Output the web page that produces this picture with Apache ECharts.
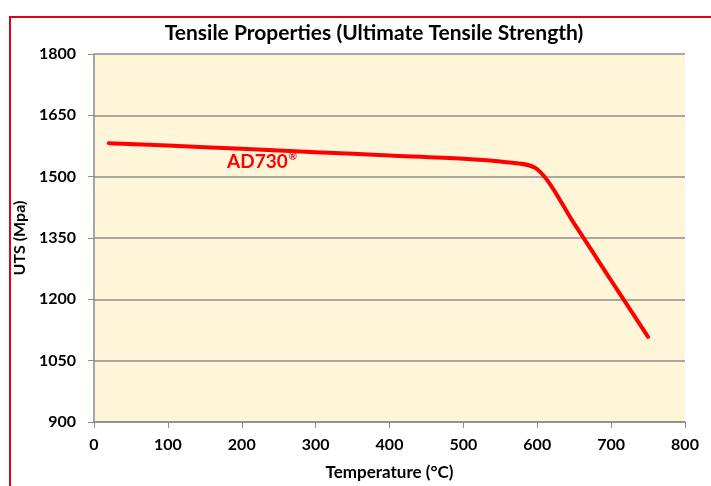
<!DOCTYPE html>
<html>
<head>
<meta charset="utf-8">
<script src="https://cdn.jsdelivr.net/npm/echarts@6/dist/echarts.min.js"></script>
<style>html,body{margin:0;padding:0;background:#fff;}#c{width:711px;height:486px;}</style>
</head>
<body>
<div id="c"></div>
<script>
const temperatures = [20, 100, 200, 300, 400, 500, 550, 600, 650, 700, 750];
const utsValues = [1582, 1576, 1568, 1560, 1552, 1544, 1537, 1518, 1385, 1246, 1108];
const yTicks = [900, 1050, 1200, 1350, 1500, 1650, 1800];
const xTicks = [0, 100, 200, 300, 400, 500, 600, 700, 800];
const seriesName = 'AD730';

const font = 'Lato, "Open Sans", sans-serif';
const chart = echarts.init(document.getElementById('c'), null, {renderer: 'canvas'});
chart.setOption({
  backgroundColor: '#fff',
  animation: false,
  title: {
    text: 'Tensile Properties (Ultimate Tensile Strength)',
    left: 369, top: 18, textAlign: 'center',
    textStyle: {fontFamily: font, fontWeight: 'bold', fontSize: 21, color: '#000'}
  },
  grid: {left: 94, right: 26, top: 54, bottom: 58, show: true, backgroundColor: '#FFF5D8', borderWidth: 0},
  xAxis: {
    type: 'value', min: xTicks[0], max: xTicks[xTicks.length - 1], interval: 100,
    name: 'Temperature (°C)', nameLocation: 'middle', nameGap: 42,
    nameTextStyle: {fontFamily: font, fontWeight: 'bold', fontSize: 17, color: '#000'},
    axisLine: {lineStyle: {color: '#8c8c8c', width: 1.5}},
    axisTick: {show: true, length: 6, inside: false, lineStyle: {color: '#8c8c8c'}},
    axisLabel: {fontFamily: font, fontWeight: 'bold', fontSize: 16, color: '#000', margin: 15},
    splitLine: {show: false}
  },
  yAxis: {
    type: 'value', min: yTicks[0], max: yTicks[yTicks.length - 1], interval: 150,
    name: 'UTS (Mpa)', nameLocation: 'middle', nameGap: 63, nameRotate: 90,
    nameTextStyle: {fontFamily: font, fontWeight: 'bold', fontSize: 16, color: '#000'},
    axisLine: {show: true, lineStyle: {color: '#8c8c8c', width: 1.5}},
    axisTick: {show: true, length: 6, lineStyle: {color: '#8c8c8c'}},
    axisLabel: {fontFamily: font, fontWeight: 'bold', fontSize: 16, color: '#000', margin: 18, formatter: v => String(v)},
    splitLine: {show: true, lineStyle: {color: '#8c8c8c', width: 1.5}}
  },
  series: [{
    name: seriesName, type: 'line', smooth: 0.3, symbol: 'none',
    data: temperatures.map((t, i) => [t, utsValues[i]]),
    lineStyle: {color: '#FF0000', width: 4, cap: 'round', join: 'round'}
  }],
  graphic: [
    {type: 'rect', shape: {x: 10, y: 17, width: 710, height: 480}, style: {fill: null, stroke: '#E2001A', lineWidth: 2}, silent: true},
    {type: 'text', left: 227, top: 152, style: {
      text: '{a|' + seriesName + '}{b|®}',
      rich: {
        a: {fontFamily: font, fontWeight: 'bold', fontSize: 19, fill: '#FF0000', color: '#FF0000'},
        b: {fontFamily: font, fontWeight: 'bold', fontSize: 10, fill: '#FF0000', color: '#FF0000', verticalAlign: 'top', padding: [0, 0, 9, 1]}
      }
    }}
  ]
});
</script>
</body>
</html>
